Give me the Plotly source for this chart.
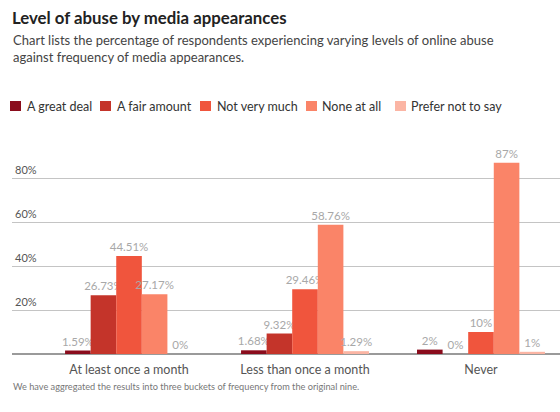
import plotly.graph_objects as go

# Survey buckets and response shares (%)
categories = ["At least once a month", "Less than once a month", "Never"]
levels = ["A great deal", "A fair amount", "Not very much", "None at all", "Prefer not to say"]
great_deal = [1.59, 1.68, 2]
fair_amount = [26.73, 9.32, 0]
not_very_much = [44.51, 29.46, 10]
none_at_all = [27.17, 58.76, 87]
prefer_not = [0, 1.29, 1]
value_labels = [
    ["1.59%", "1.68%", "2%"],
    ["26.73%", "9.32%", "0%"],
    ["44.51%", "29.46%", "10%"],
    ["27.17%", "58.76%", "87%"],
    ["0%", "1.29%", "1%"],
]
y_ticks = [20, 40, 60, 80]
y_tick_text = ["20%", "40%", "60%", "80%"]

colors = ["#8a0c1c", "#c4342a", "#f0553d", "#fa8468", "#fbb5a4"]
series = [great_deal, fair_amount, not_very_much, none_at_all, prefer_not]

FONT = "Lato"
W, H = 560, 412
M_L, M_R, M_T, M_B = 12, 0, 160, 58
PLOT_W = W - M_L - M_R
PLOT_H = H - M_T - M_B


def px_x(px):
    """Pixel column -> paper x."""
    return (px - M_L) / PLOT_W


def px_y(py):
    """Pixel row (from top) -> paper y."""
    return (H - M_B - py) / PLOT_H


x_pos = list(range(len(categories)))

fig = go.Figure()
for name, vals, col, labels in zip(levels, series, colors, value_labels):
    fig.add_trace(go.Bar(
        x=x_pos, y=vals, name=name,
        marker=dict(color=col, line=dict(width=0)),
        text=labels, textposition="outside", constraintext="none",
        textfont=dict(family=FONT, size=11.5, color="#a8a8a8"),
        cliponaxis=False, hoverinfo="skip",
    ))

fig.update_layout(
    width=W, height=H,
    margin=dict(l=M_L, r=M_R, t=M_T, b=M_B),
    paper_bgcolor="white", plot_bgcolor="white",
    barmode="group", bargap=0.273, bargroupgap=0,
    font=dict(family=FONT, color="#444"),
    showlegend=False,
    xaxis=dict(
        range=[-0.665, 2.449], tickmode="array", tickvals=x_pos, ticktext=categories,
        showgrid=False, zeroline=False, showline=False,
        ticks="outside", ticklen=4, tickcolor="rgba(0,0,0,0)",
        tickfont=dict(family=FONT, size=12.5, color="#555"),
    ),
    yaxis=dict(
        range=[0, 88.2], tickmode="array", tickvals=y_ticks, ticktext=y_tick_text,
        showgrid=True, gridcolor="#c4c4c4", gridwidth=1,
        zeroline=True, zerolinecolor="#9a9a9a", zerolinewidth=2,
        showline=False, ticks="", ticklabelposition="inside top",
        tickfont=dict(family=FONT, size=11, color="#555"),
    ),
    title=dict(
        text="<b>Level of abuse by media appearances</b>",
        x=12 / W, xanchor="left", y=1 - 18 / H, yanchor="middle",
        font=dict(family=FONT, size=16.8, color="#222"),
    ),
)

# Subtitle and footnote
fig.add_annotation(
    text="Chart lists the percentage of respondents experiencing varying levels of online abuse<br>"
         "against frequency of media appearances.",
    xref="paper", yref="paper", x=px_x(11), xanchor="left", y=px_y(48), yanchor="middle",
    align="left", showarrow=False,
    font=dict(family=FONT, size=13, color="#444"),
)
fig.add_annotation(
    text="We have aggregated the results into three buckets of frequency from the original nine.",
    xref="paper", yref="paper", x=px_x(11), xanchor="left", y=px_y(386), yanchor="middle",
    align="left", showarrow=False,
    font=dict(family=FONT, size=9.2, color="#777"),
)

# Compact legend row: swatch + label per response level
swatch_left = [10, 100, 200, 306, 395]
label_left = [25, 115, 215, 320, 409]
legend_row = 106
for name, col, sx, tx in zip(levels, colors, swatch_left, label_left):
    fig.add_shape(
        type="rect", xref="paper", yref="paper",
        x0=px_x(sx), x1=px_x(sx + 11), y0=px_y(legend_row + 5), y1=px_y(legend_row - 5),
        fillcolor=col, line=dict(width=0),
    )
    fig.add_annotation(
        text=name, xref="paper", yref="paper", x=px_x(tx), xanchor="left",
        y=px_y(legend_row), yanchor="middle", showarrow=False,
        font=dict(family=FONT, size=12.5, color="#333"),
    )

fig.write_html("out.html")
